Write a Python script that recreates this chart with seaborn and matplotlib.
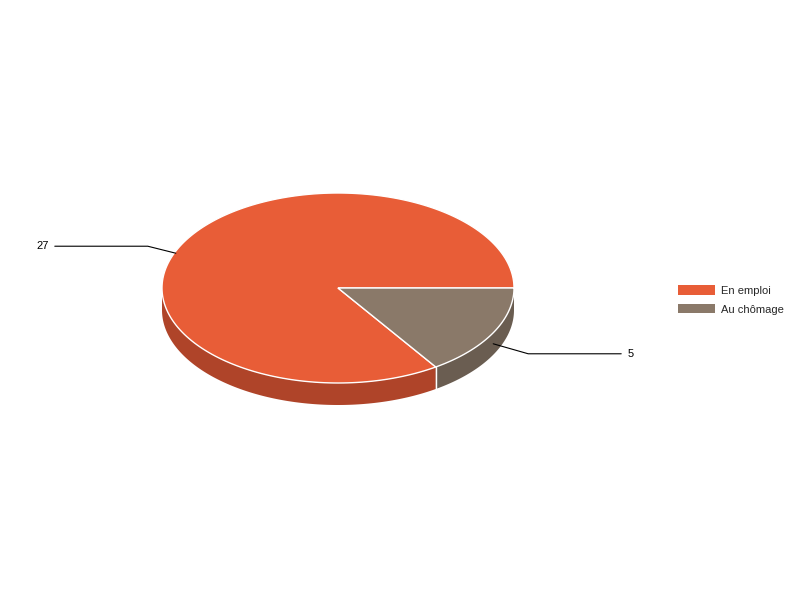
import numpy as np
import matplotlib
matplotlib.use("Agg")
import matplotlib.pyplot as plt
from matplotlib.patches import Polygon, Patch
import seaborn as sns

categories = ["En emploi", "Au chômage"]
values = [27, 5]
top_colors = ["#E85D37", "#8A7969"]
side_colors = ["#AF4429", "#6A5D51"]

sns.set_theme(style="white")
plt.rcParams["font.family"] = ["Liberation Sans", "DejaVu Sans"]

W, H = 800, 600
fig = plt.figure(figsize=(8, 6), dpi=100)
ax = fig.add_axes([0, 0, 1, 1])
ax.set_axis_off()

# geometry in units where rx = 1 (176 px)
S = 176.0
cx_px, cy_px = 338, 288
ry = 95 / S
depth = 22 / S
ax.set_xlim(-cx_px / S, (W - cx_px) / S)
ax.set_ylim(-(H - cy_px) / S, cy_px / S)
ax.set_aspect("equal")

total = float(sum(values))
bounds = np.concatenate([[0], np.cumsum(values)]) / total * 360.0

def pt(t, dz=0.0):
    r = np.deg2rad(t)
    return np.cos(r), ry * np.sin(r) - dz

# sides (front half: 180..360)
for i in range(len(values)):
    a0, a1 = max(bounds[i], 180), min(bounds[i + 1], 360)
    if a1 <= a0:
        continue
    ts = np.linspace(a0, a1, 120)
    top = [pt(t) for t in ts]
    bot = [pt(t, depth) for t in ts[::-1]]
    ax.add_patch(Polygon(top + bot, closed=True, facecolor=side_colors[i],
                         edgecolor="none", zorder=1))
# white seams on side
for b in bounds[1:-1]:
    if 180 < b < 360:
        x0, y0 = pt(b)
        x1, y1 = pt(b, depth)
        ax.plot([x0, x1], [y0, y1], color="white", lw=1, zorder=2)

# top faces
for i in range(len(values)):
    ts = np.linspace(bounds[i], bounds[i + 1], 200)
    verts = [(0, 0)] + [pt(t) for t in ts]
    ax.add_patch(Polygon(verts, closed=True, facecolor=top_colors[i],
                         edgecolor="white", lw=1, zorder=3))

# labels with leader lines
for i, v in enumerate(values):
    mid = (bounds[i] + bounds[i + 1]) / 2
    right = np.cos(np.deg2rad(mid)) > 0
    sgn = 1 if right else -1
    ax_, ay_ = pt(mid, depth / 2)
    if not right:
        ax_ -= 7 / S
        ay_ += 1 / S
    ex = ax_ + sgn * (35 if right else 28) / S
    ey = ay_ - 10 / S if right else ay_ + 7 / S
    tx = ex + sgn * 93 / S
    ax.plot([ax_, ex, tx], [ay_, ey, ey], color="black", lw=0.8, zorder=4)
    ax.text(tx + sgn * 6 / S, ey, str(v), ha="left" if right else "right",
            va="center", fontsize=8, color="black")

handles = [Patch(facecolor=c, edgecolor="none") for c in top_colors]
fig.legend(handles, categories, loc="center left",
           bbox_to_anchor=(674 / W, 1 - 300 / H), frameon=False,
           fontsize=8, handlelength=3.3, handleheight=0.9,
           handletextpad=0.55, labelspacing=0.75, borderaxespad=0)

fig.savefig("out.png", dpi=100, facecolor="white")
